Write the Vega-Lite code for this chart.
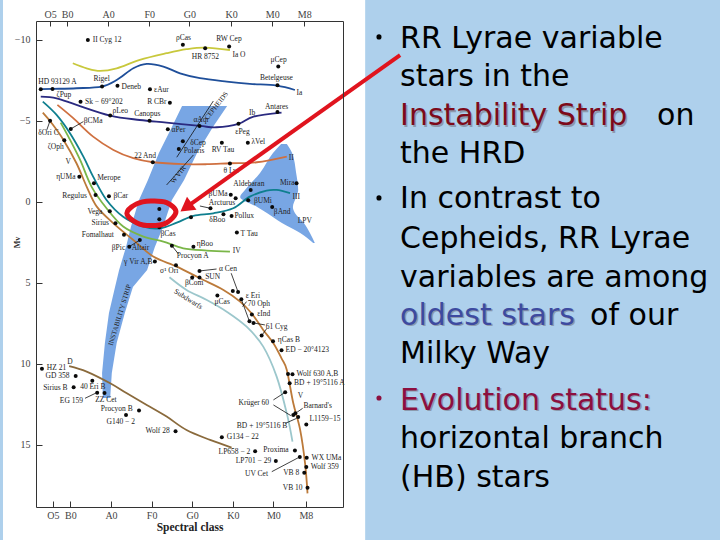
{"$schema":"https://vega.github.io/schema/vega-lite/v6.json","width":307,"height":486,"autosize":"none","padding":{"left":36,"top":21,"right":377,"bottom":33},"background":"#aed0ec","config":{"view":{"stroke":null}},
"datasets":{
"panel":[{"x":-2.66,"x2":6.26,"y":-12.47,"y2":20.86}],
"strip":[{"y":-5.93,"l":1.75,"r":2.86},{"y":-4.63,"l":1.50,"r":2.51},{"y":-3.02,"l":1.18,"r":2.12},{"y":-1.36,"l":0.91,"r":1.80},{"y":-0.12,"l":0.69,"r":1.50},{"y":1.54,"l":0.49,"r":1.28},{"y":2.78,"l":0.37,"r":1.08},{"y":4.20,"l":0.20,"r":0.89},{"y":5.25,"l":0.10,"r":0.54},{"y":6.85,"l":-0.05,"r":0.34},{"y":8.70,"l":-0.15,"r":0.14},{"y":10.56,"l":-0.22,"r":0.02},{"y":12.10,"l":-0.20,"r":-0.02}],
"giants":[{"y":-3.58,"l":4.19,"r":4.33},{"y":-3.02,"l":3.99,"r":4.46},{"y":-1.79,"l":3.67,"r":4.56},{"y":-0.74,"l":3.30,"r":4.61},{"y":-0.31,"l":3.18,"r":4.56},{"y":0.31,"l":3.60,"r":4.48},{"y":0.68,"l":3.84,"r":4.53},{"y":1.30,"l":4.21,"r":4.75},{"y":1.91,"l":4.66,"r":4.90},{"y":2.53,"l":4.98,"r":5.02}],
"curves":[
{"s":"Ia+","x":-0.94,"y":-8.56},{"s":"Ia+","x":-0.60,"y":-8.25},{"s":"Ia+","x":-0.27,"y":-8.09},{"s":"Ia+","x":0.14,"y":-8.25},{"s":"Ia+","x":0.71,"y":-8.77},{"s":"Ia+","x":1.37,"y":-9.18},{"s":"Ia+","x":1.86,"y":-9.43},{"s":"Ia+","x":2.32,"y":-9.53},{"s":"Ia+","x":2.93,"y":-9.38},
{"s":"Ia","x":-1.73,"y":-6.96},{"s":"Ia","x":-1.44,"y":-6.98},{"s":"Ia","x":-0.85,"y":-7.02},{"s":"Ia","x":-0.23,"y":-7.12},{"s":"Ia","x":0.14,"y":-7.53},{"s":"Ia","x":0.55,"y":-8.25},{"s":"Ia","x":0.88,"y":-8.52},{"s":"Ia","x":1.29,"y":-8.36},{"s":"Ia","x":1.70,"y":-7.94},{"s":"Ia","x":2.19,"y":-7.64},{"s":"Ia","x":2.85,"y":-7.43},{"s":"Ia","x":3.42,"y":-7.29},{"s":"Ia","x":4.08,"y":-7.18},{"s":"Ia","x":4.53,"y":-6.91},
{"s":"Ib","x":-1.73,"y":-6.50},{"s":"Ib","x":-1.34,"y":-6.40},{"s":"Ib","x":-0.85,"y":-5.99},{"s":"Ib","x":-0.02,"y":-5.33},{"s":"Ib","x":0.71,"y":-5.06},{"s":"Ib","x":1.37,"y":-4.90},{"s":"Ib","x":2.19,"y":-4.69},{"s":"Ib","x":2.60,"y":-4.61},{"s":"Ib","x":3.14,"y":-4.82},{"s":"Ib","x":3.51,"y":-5.27},{"s":"Ib","x":4.20,"y":-5.52},
{"s":"II","x":-1.32,"y":-5.99},{"s":"II","x":-0.93,"y":-5.17},{"s":"II","x":-0.44,"y":-4.03},{"s":"II","x":0.06,"y":-3.21},{"s":"II","x":0.55,"y":-2.70},{"s":"II","x":1.04,"y":-2.45},{"s":"II","x":1.78,"y":-2.33},{"s":"II","x":2.36,"y":-2.33},{"s":"II","x":2.93,"y":-2.39},{"s":"II","x":3.59,"y":-2.45},{"s":"II","x":4.33,"y":-2.80},
{"s":"III","x":-1.68,"y":-6.19},{"s":"III","x":-1.34,"y":-5.37},{"s":"III","x":-1.01,"y":-4.24},{"s":"III","x":-0.68,"y":-2.80},{"s":"III","x":-0.44,"y":-1.56},{"s":"III","x":-0.11,"y":-0.12},{"s":"III","x":0.30,"y":0.91},{"s":"III","x":0.80,"y":1.52},{"s":"III","x":1.21,"y":1.63},{"s":"III","x":1.62,"y":1.28},{"s":"III","x":2.03,"y":0.86},{"s":"III","x":2.52,"y":0.70},{"s":"III","x":3.01,"y":0.39},{"s":"III","x":3.42,"y":-0.33},{"s":"III","x":3.83,"y":-0.70},{"s":"III","x":4.08,"y":-0.74},{"s":"III","x":4.41,"y":-0.54},
{"s":"IV","x":-1.24,"y":-4.90},{"s":"IV","x":-1.05,"y":-4.03},{"s":"IV","x":-0.76,"y":-2.59},{"s":"IV","x":-0.48,"y":-0.95},{"s":"IV","x":-0.11,"y":0.39},{"s":"IV","x":0.30,"y":1.52},{"s":"IV","x":0.80,"y":2.14},{"s":"IV","x":1.29,"y":2.45},{"s":"IV","x":1.78,"y":2.86},{"s":"IV","x":2.36,"y":3.00},{"s":"IV","x":2.93,"y":3.07},
{"s":"V","x":-1.68,"y":-5.51},{"s":"V","x":-1.46,"y":-4.86},{"s":"V","x":-1.17,"y":-3.83},{"s":"V","x":-0.85,"y":-2.39},{"s":"V","x":-0.60,"y":-0.95},{"s":"V","x":-0.35,"y":0.29},{"s":"V","x":0.06,"y":1.32},{"s":"V","x":0.55,"y":2.35},{"s":"V","x":1.04,"y":3.37},{"s":"V","x":1.62,"y":3.99},{"s":"V","x":2.19,"y":4.71},{"s":"V","x":2.77,"y":5.43},{"s":"V","x":3.18,"y":6.15},{"s":"V","x":3.46,"y":6.87},{"s":"V","x":3.75,"y":7.90},{"s":"V","x":4.00,"y":8.72},{"s":"V","x":4.20,"y":9.65},{"s":"V","x":4.33,"y":10.37},{"s":"V","x":4.49,"y":12.43},{"s":"V","x":4.66,"y":14.08},{"s":"V","x":4.78,"y":16.14},{"s":"V","x":4.84,"y":17.99},
{"s":"sd","x":1.44,"y":4.65},{"s":"sd","x":1.86,"y":5.43},{"s":"sd","x":2.36,"y":6.05},{"s":"sd","x":2.85,"y":6.77},{"s":"sd","x":3.34,"y":7.70},{"s":"sd","x":3.75,"y":8.93},{"s":"sd","x":4.08,"y":10.78},{"s":"sd","x":4.33,"y":13.05},{"s":"sd","x":4.47,"y":14.79},
{"s":"D","x":-1.03,"y":10.13},{"s":"D","x":-0.60,"y":10.47},{"s":"D","x":-0.02,"y":11.19},{"s":"D","x":0.39,"y":11.81},{"s":"D","x":0.88,"y":12.53},{"s":"D","x":1.37,"y":13.25},{"s":"D","x":1.86,"y":14.08},{"s":"D","x":2.44,"y":14.69},{"s":"D","x":2.97,"y":15.16}],
"links":[{"x":-0.99,"y":-4.51,"x2":-0.68,"y2":-4.96},{"x":-1.50,"y":-5.02,"x2":-1.58,"y2":-4.45},{"x":0.45,"y":2.76,"x2":0.71,"y2":2.35},{"x":1.50,"y":2.70,"x2":1.66,"y2":3.21},{"x":2.19,"y":0.25,"x2":2.45,"y2":0.39},{"x":1.62,"y":-2.76,"x2":2.52,"y2":-6.23},{"x":1.37,"y":-1.05,"x2":2.03,"y2":-2.90},{"x":2.18,"y":4.26,"x2":2.60,"y2":4.14},{"x":2.96,"y":4.40,"x2":3.13,"y2":5.56},{"x":3.34,"y":6.15,"x2":3.24,"y2":6.46},{"x":3.51,"y":7.47,"x2":3.79,"y2":7.59},{"x":3.84,"y":7.80,"x2":3.71,"y2":8.25},{"x":3.21,"y":6.01,"x2":3.41,"y2":7.37},{"x":4.00,"y":12.22,"x2":4.29,"y2":11.75},{"x":4.00,"y":12.53,"x2":4.43,"y2":13.19},{"x":4.72,"y":12.74,"x2":4.57,"y2":13.0},{"x":4.29,"y":13.67,"x2":4.57,"y2":13.36},{"x":3.96,"y":16.65,"x2":4.61,"y2":15.79},{"x":-0.64,"y":12.12,"x2":-0.35,"y2":11.77}],
"stars":[{"x":-0.57,"y":-10.0},{"x":1.77,"y":-9.71},{"x":2.91,"y":-9.59},{"x":2.32,"y":-9.49},{"x":4.12,"y":-8.36},{"x":4.10,"y":-7.20},{"x":-1.73,"y":-6.96},{"x":-1.44,"y":-6.98},{"x":-0.22,"y":-7.12},{"x":0.16,"y":-7.18},{"x":0.96,"y":-6.96},{"x":-0.75,"y":-6.19},{"x":1.45,"y":-6.13},{"x":-0.02,"y":-5.33},{"x":0.95,"y":-5.02},{"x":-0.99,"y":-4.51},{"x":-1.50,"y":-5.02},{"x":-1.15,"y":-3.81},{"x":-0.78,"y":-1.56},{"x":-0.42,"y":-1.15},{"x":-0.38,"y":-0.43},{"x":-0.05,"y":-0.35},{"x":-0.03,"y":0.58},{"x":0.11,"y":1.32},{"x":0.32,"y":2.02},{"x":0.45,"y":2.76},{"x":0.71,"y":2.35},{"x":1.08,"y":3.68},{"x":1.40,"y":-4.49},{"x":2.18,"y":-4.69},{"x":1.77,"y":-3.75},{"x":1.67,"y":-3.27},{"x":2.73,"y":-3.66},{"x":3.37,"y":-3.66},{"x":3.14,"y":-4.82},{"x":4.10,"y":-5.56},{"x":1.03,"y":-2.45},{"x":2.93,"y":-2.37},{"x":3.44,"y":-0.74},{"x":4.57,"y":-1.15},{"x":2.95,"y":-0.45},{"x":3.07,"y":-0.23},{"x":3.38,"y":-0.10},{"x":3.97,"y":0.31},{"x":2.45,"y":0.39},{"x":1.97,"y":0.95},{"x":2.77,"y":0.76},{"x":2.97,"y":0.86},{"x":3.10,"y":1.89},{"x":1.19,"y":1.56},{"x":1.19,"y":0.43},{"x":1.19,"y":1.07},{"x":2.03,"y":2.76},{"x":1.50,"y":2.70},{"x":1.60,"y":3.91},{"x":2.18,"y":4.26},{"x":2.18,"y":4.67},{"x":2.00,"y":4.67},{"x":2.62,"y":5.78},{"x":3.00,"y":5.49},{"x":3.13,"y":5.56},{"x":3.21,"y":6.01},{"x":3.47,"y":6.94},{"x":3.41,"y":7.37},{"x":3.51,"y":7.47},{"x":3.71,"y":8.25},{"x":3.99,"y":8.60},{"x":4.20,"y":9.16},{"x":4.36,"y":10.62},{"x":4.47,"y":10.64},{"x":4.40,"y":11.19},{"x":4.29,"y":11.75},{"x":4.49,"y":13.15},{"x":4.54,"y":13.05},{"x":4.61,"y":13.27},{"x":4.81,"y":13.73},{"x":4.53,"y":15.35},{"x":4.82,"y":15.79},{"x":4.65,"y":15.74},{"x":4.81,"y":16.36},{"x":4.76,"y":16.71},{"x":4.84,"y":17.64},{"x":3.55,"y":15.39},{"x":4.06,"y":15.99},{"x":2.73,"y":14.53},{"x":1.59,"y":14.16},{"x":0.37,"y":13.15},{"x":0.69,"y":12.88},{"x":-0.16,"y":11.79},{"x":-0.34,"y":11.77},{"x":-0.46,"y":11.03},{"x":-0.92,"y":11.44},{"x":-0.87,"y":10.74},{"x":-1.70,"y":10.29}],
"labels":[{"t":"II Cyg 12","x":-0.45,"y":-9.98},{"t":"ρCas","x":1.60,"y":-10.13},{"t":"RW Cep","x":2.59,"y":-10.08},{"t":"HR 8752","x":1.99,"y":-8.93},{"t":"Ia  O","x":2.99,"y":-9.10},{"t":"μCep","x":3.93,"y":-8.79},{"t":"Betelgeuse","x":3.67,"y":-7.66},{"t":"Ia","x":4.57,"y":-6.73},{"t":"HD 93129 A","x":-1.79,"y":-7.41},{"t":"ζPup","x":-1.34,"y":-6.63},{"t":"Rigel","x":-0.43,"y":-7.59},{"t":"Deneb","x":0.26,"y":-7.12},{"t":"εAur","x":1.06,"y":-6.91},{"t":"Sk − 69°202","x":-0.64,"y":-6.19},{"t":"R CBr","x":0.89,"y":-6.19},{"t":"ρLeo","x":0.04,"y":-5.62},{"t":"Canopus","x":0.57,"y":-5.43},{"t":"βCMa","x":-0.67,"y":-5.02},{"t":"δOri C","x":-1.79,"y":-4.24},{"t":"ζOph","x":-1.56,"y":-3.40},{"t":"V","x":-1.12,"y":-2.45},{"t":"ηUMa","x":-1.35,"y":-1.56},{"t":"Merope","x":-0.34,"y":-1.50},{"t":"Regulus","x":-1.20,"y":-0.35},{"t":"βCar","x":0.06,"y":-0.37},{"t":"Vega","x":-0.58,"y":0.64},{"t":"Sirius","x":-0.48,"y":1.30},{"t":"Fomalhaut","x":-0.72,"y":2.04},{"t":"βPic","x":0.02,"y":2.86},{"t":"Altair","x":0.51,"y":2.86},{"t":"γ Vir A,B","x":0.32,"y":3.70},{"t":"αPer","x":1.49,"y":-4.45},{"t":"αAqr","x":2.03,"y":-5.06},{"t":"δCep","x":1.95,"y":-3.66},{"t":"Polaris","x":1.79,"y":-3.17},{"t":"RV Tau","x":2.48,"y":-3.23},{"t":"λVel","x":3.46,"y":-3.68},{"t":"εPeg","x":3.06,"y":-4.34},{"t":"Ib","x":3.40,"y":-5.47},{"t":"Antares","x":3.79,"y":-5.87},{"t":"22 And","x":0.57,"y":-2.84},{"t":"θ Lyr","x":2.77,"y":-1.93},{"t":"II","x":4.38,"y":-2.72},{"t":"Aldebaran","x":3.01,"y":-1.09},{"t":"Mira","x":4.16,"y":-1.17},{"t":"βUMa","x":2.40,"y":-0.52},{"t":"Arcturus","x":2.41,"y":0.05},{"t":"βUMi","x":3.52,"y":-0.06},{"t":"βAnd","x":4.01,"y":0.62},{"t":"III","x":4.47,"y":-0.31},{"t":"LPV","x":4.60,"y":1.15},{"t":"δBoo","x":2.42,"y":1.09},{"t":"Pollux","x":3.04,"y":0.88},{"t":"T Tau","x":3.19,"y":1.95},{"t":"βCas","x":1.22,"y":1.98},{"t":"ηBoo","x":2.11,"y":2.61},{"t":"IV","x":3.00,"y":3.00},{"t":"Procyon A","x":1.62,"y":3.35},{"t":"σ¹ Ori","x":1.21,"y":4.24},{"t":"α Cen","x":2.66,"y":4.14},{"t":"SUN","x":2.32,"y":4.65},{"t":"βCom","x":1.82,"y":5.02},{"t":"μCas","x":2.55,"y":6.15},{"t":"ε Eri","x":3.32,"y":5.78},{"t":"70 Oph","x":3.37,"y":6.30},{"t":"εInd","x":3.60,"y":6.91},{"t":"61 Cyg","x":3.81,"y":7.72},{"t":"ηCas B","x":4.11,"y":8.54},{"t":"ED − 20°4123","x":4.30,"y":9.16},{"t":"Wolf 630 A,B","x":4.57,"y":10.62},{"t":"BD + 19°5116 A","x":4.51,"y":11.19},{"t":"Krüger 60","x":3.14,"y":12.43},{"t":"V","x":4.60,"y":11.98},{"t":"Barnard's","x":4.74,"y":12.60},{"t":"L1159−15","x":4.89,"y":13.40},{"t":"BD + 19°5116 B","x":3.10,"y":13.81},{"t":"Proxima","x":3.75,"y":15.33},{"t":"WX UMa","x":4.94,"y":15.79},{"t":"Wolf 359","x":4.92,"y":16.36},{"t":"VB 8","x":4.24,"y":16.75},{"t":"VB 10","x":4.23,"y":17.64},{"t":"LP658 − 2","x":2.65,"y":15.46},{"t":"LP701 − 29","x":3.07,"y":15.99},{"t":"UV Cet","x":3.30,"y":16.77},{"t":"G134 − 22","x":2.85,"y":14.49},{"t":"Wolf 28","x":0.85,"y":14.16},{"t":"G140 − 2","x":-0.11,"y":13.60},{"t":"Procyon B","x":-0.25,"y":12.75},{"t":"ZZ Cet","x":-0.39,"y":12.2},{"t":"EG 159","x":-1.26,"y":12.29},{"t":"40 Eri B","x":-0.76,"y":11.40},{"t":"Sirius B","x":-1.67,"y":11.48},{"t":"GD 358","x":-1.61,"y":10.74},{"t":"HZ 21","x":-1.58,"y":10.27},{"t":"D","x":-1.08,"y":9.86}],
"ring":[{"o":1,"x":0.39,"y":0.70},{"o":2,"x":0.63,"y":0.12},{"o":3,"x":0.98,"y":-0.06},{"o":4,"x":1.37,"y":0.04},{"o":5,"x":1.60,"y":0.60},{"o":6,"x":1.37,"y":1.28},{"o":7,"x":0.98,"y":1.46},{"o":8,"x":0.63,"y":1.28}],
"arrow":[{"x":7.12,"y":-9.07},{"x":1.85,"y":0.33}],
"arrowhead":[{"x":1.85,"y":0.33}],
"bullets":[{"x":6.60,"y":-10.19,"k":"body"},{"x":6.60,"y":-0.25,"k":"body"},{"x":6.60,"y":12.10,"k":"crimson"}],
"text":[{"t":"RR Lyrae variable","x":7.12,"y":-9.51,"k":"body"},{"t":"stars in the","x":7.12,"y":-7.16,"k":"body"},{"t":"Instability Strip","x":7.12,"y":-4.75,"k":"red"},{"t":"on","x":13.45,"y":-4.75,"k":"body"},{"t":"the HRD","x":7.12,"y":-2.41,"k":"body"},{"t":"In contrast to","x":7.12,"y":0.37,"k":"body"},{"t":"Cepheids, RR Lyrae","x":7.12,"y":2.84,"k":"body"},{"t":"variables are among","x":7.12,"y":5.25,"k":"body"},{"t":"oldest stars","x":7.12,"y":7.59,"k":"blue"},{"t":"of our","x":11.80,"y":7.59,"k":"body"},{"t":"Milky Way","x":7.12,"y":9.94,"k":"body"},{"t":"Evolution status:","x":7.12,"y":12.84,"k":"crimson"},{"t":"horizontal branch","x":7.12,"y":15.19,"k":"body"},{"t":"(HB) stars","x":7.12,"y":17.59,"k":"body"}]
},
"layer":[
{"data":{"name":"panel"},"mark":{"type":"rect","fill":"#ffffff"},"encoding":{
"x":{"field":"x","type":"quantitative","scale":{"domain":[-1.847,5.714],"nice":false,"zero":false},"axis":{"orient":"bottom","values":[-1.43,-1,0,1,2,3,4,4.8],"labelExpr":"datum.value<-1.2?'O5':datum.value<-0.5?'B0':datum.value<0.5?'A0':datum.value<1.5?'F0':datum.value<2.5?'G0':datum.value<3.5?'K0':datum.value<4.4?'M0':'M8'","title":"Spectral class","titleFont":"Liberation Serif","titleFontWeight":"bold","titleFontSize":11.5,"titleColor":"#222222","titlePadding":1,"labelFont":"Liberation Serif","labelFontSize":10,"labelColor":"#444444","labelPadding":9,"domainColor":"#333333","tickColor":"#333333","tickSize":-6,"grid":false,"zindex":1}},
"x2":{"field":"x2"},
"y":{"field":"y","type":"quantitative","scale":{"domain":[-11.17,18.83],"reverse":true,"nice":false,"zero":false},"axis":{"orient":"left","values":[-10,-5,0,5,10,15],"labelExpr":"datum.value<0?'−'+abs(datum.value):''+datum.value","title":"Mv","titleFont":"Liberation Serif","titleFontSize":8,"titleColor":"#333333","titleX":-15,"titleY":221,"labelFont":"Liberation Serif","labelFontSize":10,"labelColor":"#444444","labelPadding":12,"domainColor":"#333333","tickColor":"#333333","tickSize":-6,"grid":false,"zindex":1}},
"y2":{"field":"y2"}}},
{"data":{"name":"strip"},"mark":{"type":"area","fill":"#78a6e4","interpolate":"linear"},"encoding":{
"y":{"field":"y","type":"quantitative","scale":{"domain":[-11.17,18.83],"reverse":true,"nice":false,"zero":false},"axis":{"orient":"right","labels":false,"ticks":false,"title":null,"domainColor":"#333333","grid":false,"zindex":1}},
"x":{"field":"l","type":"quantitative","scale":{"domain":[-1.847,5.714],"nice":false,"zero":false},"axis":{"orient":"top","values":[-1.50,-1.08,-0.07,0.94,1.93,2.96,3.97,4.76],"labelExpr":"datum.value<-1.3?'O5':datum.value<-0.5?'B0':datum.value<0.5?'A0':datum.value<1.5?'F0':datum.value<2.5?'G0':datum.value<3.5?'K0':datum.value<4.4?'M0':'M8'","title":null,"labelFont":"Liberation Serif","labelFontSize":10,"labelColor":"#444444","labelPadding":7,"domainColor":"#333333","tickColor":"#333333","tickSize":-5,"grid":false,"zindex":1}},
"x2":{"field":"r"}}},
{"data":{"name":"giants"},"mark":{"type":"area","fill":"#78a6e4","interpolate":"monotone"},"encoding":{
"y":{"field":"y","type":"quantitative","scale":{"domain":[-11.17,18.83],"reverse":true,"nice":false,"zero":false},"axis":null},
"x":{"field":"l","type":"quantitative","scale":{"domain":[-1.847,5.714],"nice":false,"zero":false},"axis":null},
"x2":{"field":"r"}}},
{"data":{"name":"curves"},"mark":{"type":"line","interpolate":"cardinal","strokeWidth":1.8},"encoding":{
"x":{"field":"x","type":"quantitative","scale":{"domain":[-1.847,5.714],"nice":false,"zero":false},"axis":null},
"y":{"field":"y","type":"quantitative","scale":{"domain":[-11.17,18.83],"reverse":true,"nice":false,"zero":false},"axis":null},
"color":{"field":"s","type":"nominal","legend":null,"scale":{"domain":["Ia+","Ia","Ib","II","III","IV","V","sd","D"],"range":["#c8c83c","#1f4f9a","#2a2a80","#cf7040","#0f7f8f","#7ab648","#bc7a3a","#9cc7cc","#8a6a3c"]}}}},
{"data":{"name":"links"},"mark":{"type":"rule","stroke":"#111111","strokeWidth":0.8},"encoding":{
"x":{"field":"x","type":"quantitative","scale":{"domain":[-1.847,5.714],"nice":false,"zero":false},"axis":null},
"y":{"field":"y","type":"quantitative","scale":{"domain":[-11.17,18.83],"reverse":true,"nice":false,"zero":false},"axis":null},
"x2":{"field":"x2"},"y2":{"field":"y2"}}},
{"data":{"name":"stars"},"mark":{"type":"circle","fill":"#0a0a0a","size":16,"opacity":1},"encoding":{
"x":{"field":"x","type":"quantitative","scale":{"domain":[-1.847,5.714],"nice":false,"zero":false},"axis":null},
"y":{"field":"y","type":"quantitative","scale":{"domain":[-11.17,18.83],"reverse":true,"nice":false,"zero":false},"axis":null}}},
{"data":{"name":"labels"},"mark":{"type":"text","align":"left","baseline":"middle","font":"Liberation Serif","fontSize":7.5,"fill":"#222222"},"encoding":{
"x":{"field":"x","type":"quantitative","scale":{"domain":[-1.847,5.714],"nice":false,"zero":false},"axis":null},
"y":{"field":"y","type":"quantitative","scale":{"domain":[-11.17,18.83],"reverse":true,"nice":false,"zero":false},"axis":null},
"text":{"field":"t"}}},
{"data":{"values":[{"t":"CEPHEIDS","x":2.60,"y":-5.93},{"t":"W VIR","x":1.66,"y":-1.67}]},"mark":{"type":"text","align":"center","baseline":"middle","font":"Liberation Serif","fontSize":7,"fill":"#222222","angle":308},"encoding":{
"x":{"field":"x","type":"quantitative","scale":{"domain":[-1.847,5.714],"nice":false,"zero":false},"axis":null},
"y":{"field":"y","type":"quantitative","scale":{"domain":[-11.17,18.83],"reverse":true,"nice":false,"zero":false},"axis":null},
"text":{"field":"t"}}},
{"data":{"values":[{"t":"Subdwarfs","x":1.90,"y":6.01}]},"mark":{"type":"text","align":"center","baseline":"middle","font":"Liberation Serif","fontSize":7.5,"fill":"#222222","angle":32},"encoding":{
"x":{"field":"x","type":"quantitative","scale":{"domain":[-1.847,5.714],"nice":false,"zero":false},"axis":null},
"y":{"field":"y","type":"quantitative","scale":{"domain":[-11.17,18.83],"reverse":true,"nice":false,"zero":false},"axis":null},
"text":{"field":"t"}}},
{"data":{"values":[{"t":"INSTABILITY STRIP","x":0.22,"y":6.98}]},"mark":{"type":"text","align":"center","baseline":"middle","font":"Liberation Serif","fontSize":7,"fill":"#222222","angle":287},"encoding":{
"x":{"field":"x","type":"quantitative","scale":{"domain":[-1.847,5.714],"nice":false,"zero":false},"axis":null},
"y":{"field":"y","type":"quantitative","scale":{"domain":[-11.17,18.83],"reverse":true,"nice":false,"zero":false},"axis":null},
"text":{"field":"t"}}},
{"data":{"name":"ring"},"mark":{"type":"line","interpolate":"cardinal-closed","stroke":"#e0141e","strokeWidth":5},"encoding":{
"x":{"field":"x","type":"quantitative","scale":{"domain":[-1.847,5.714],"nice":false,"zero":false},"axis":null},
"y":{"field":"y","type":"quantitative","scale":{"domain":[-11.17,18.83],"reverse":true,"nice":false,"zero":false},"axis":null},
"order":{"field":"o","type":"ordinal"}}},
{"data":{"name":"arrow"},"mark":{"type":"line","stroke":"#e0141e","strokeWidth":4},"encoding":{
"x":{"field":"x","type":"quantitative","scale":{"domain":[-1.847,5.714],"nice":false,"zero":false},"axis":null},
"y":{"field":"y","type":"quantitative","scale":{"domain":[-11.17,18.83],"reverse":true,"nice":false,"zero":false},"axis":null}}},
{"data":{"name":"arrowhead"},"mark":{"type":"point","shape":"triangle-up","filled":true,"fill":"#e0141e","size":260,"opacity":1,"angle":234},"encoding":{
"x":{"field":"x","type":"quantitative","scale":{"domain":[-1.847,5.714],"nice":false,"zero":false},"axis":null},
"y":{"field":"y","type":"quantitative","scale":{"domain":[-11.17,18.83],"reverse":true,"nice":false,"zero":false},"axis":null}}},
{"data":{"name":"bullets"},"mark":{"type":"circle","size":26,"opacity":1},"encoding":{
"x":{"field":"x","type":"quantitative","scale":{"domain":[-1.847,5.714],"nice":false,"zero":false},"axis":null},
"y":{"field":"y","type":"quantitative","scale":{"domain":[-11.17,18.83],"reverse":true,"nice":false,"zero":false},"axis":null},
"color":{"field":"k","type":"nominal","legend":null,"scale":{"domain":["body","red","blue","crimson"],"range":["#000000","#7d0a1a","#3d4aa0","#8c0f3f"]}}}},
{"data":{"name":"text"},"transform":[{"filter":"datum.k!='body'"}],"mark":{"type":"text","align":"left","baseline":"alphabetic","font":"DejaVu Sans","fontSize":30,"dx":1.5,"dy":1.5,"fill":"#8c9aae"},"encoding":{
"x":{"field":"x","type":"quantitative","scale":{"domain":[-1.847,5.714],"nice":false,"zero":false},"axis":null},
"y":{"field":"y","type":"quantitative","scale":{"domain":[-11.17,18.83],"reverse":true,"nice":false,"zero":false},"axis":null},
"text":{"field":"t"}}},
{"data":{"name":"text"},"mark":{"type":"text","align":"left","baseline":"alphabetic","font":"DejaVu Sans","fontSize":30},"encoding":{
"x":{"field":"x","type":"quantitative","scale":{"domain":[-1.847,5.714],"nice":false,"zero":false},"axis":null},
"y":{"field":"y","type":"quantitative","scale":{"domain":[-11.17,18.83],"reverse":true,"nice":false,"zero":false},"axis":null},
"text":{"field":"t"},
"color":{"field":"k","type":"nominal","legend":null,"scale":{"domain":["body","red","blue","crimson"],"range":["#000000","#7d0a1a","#3d4aa0","#8c0f3f"]}}}}
],
"resolve":{"axis":{"x":"independent","y":"independent"},"scale":{"color":"independent"}}}
